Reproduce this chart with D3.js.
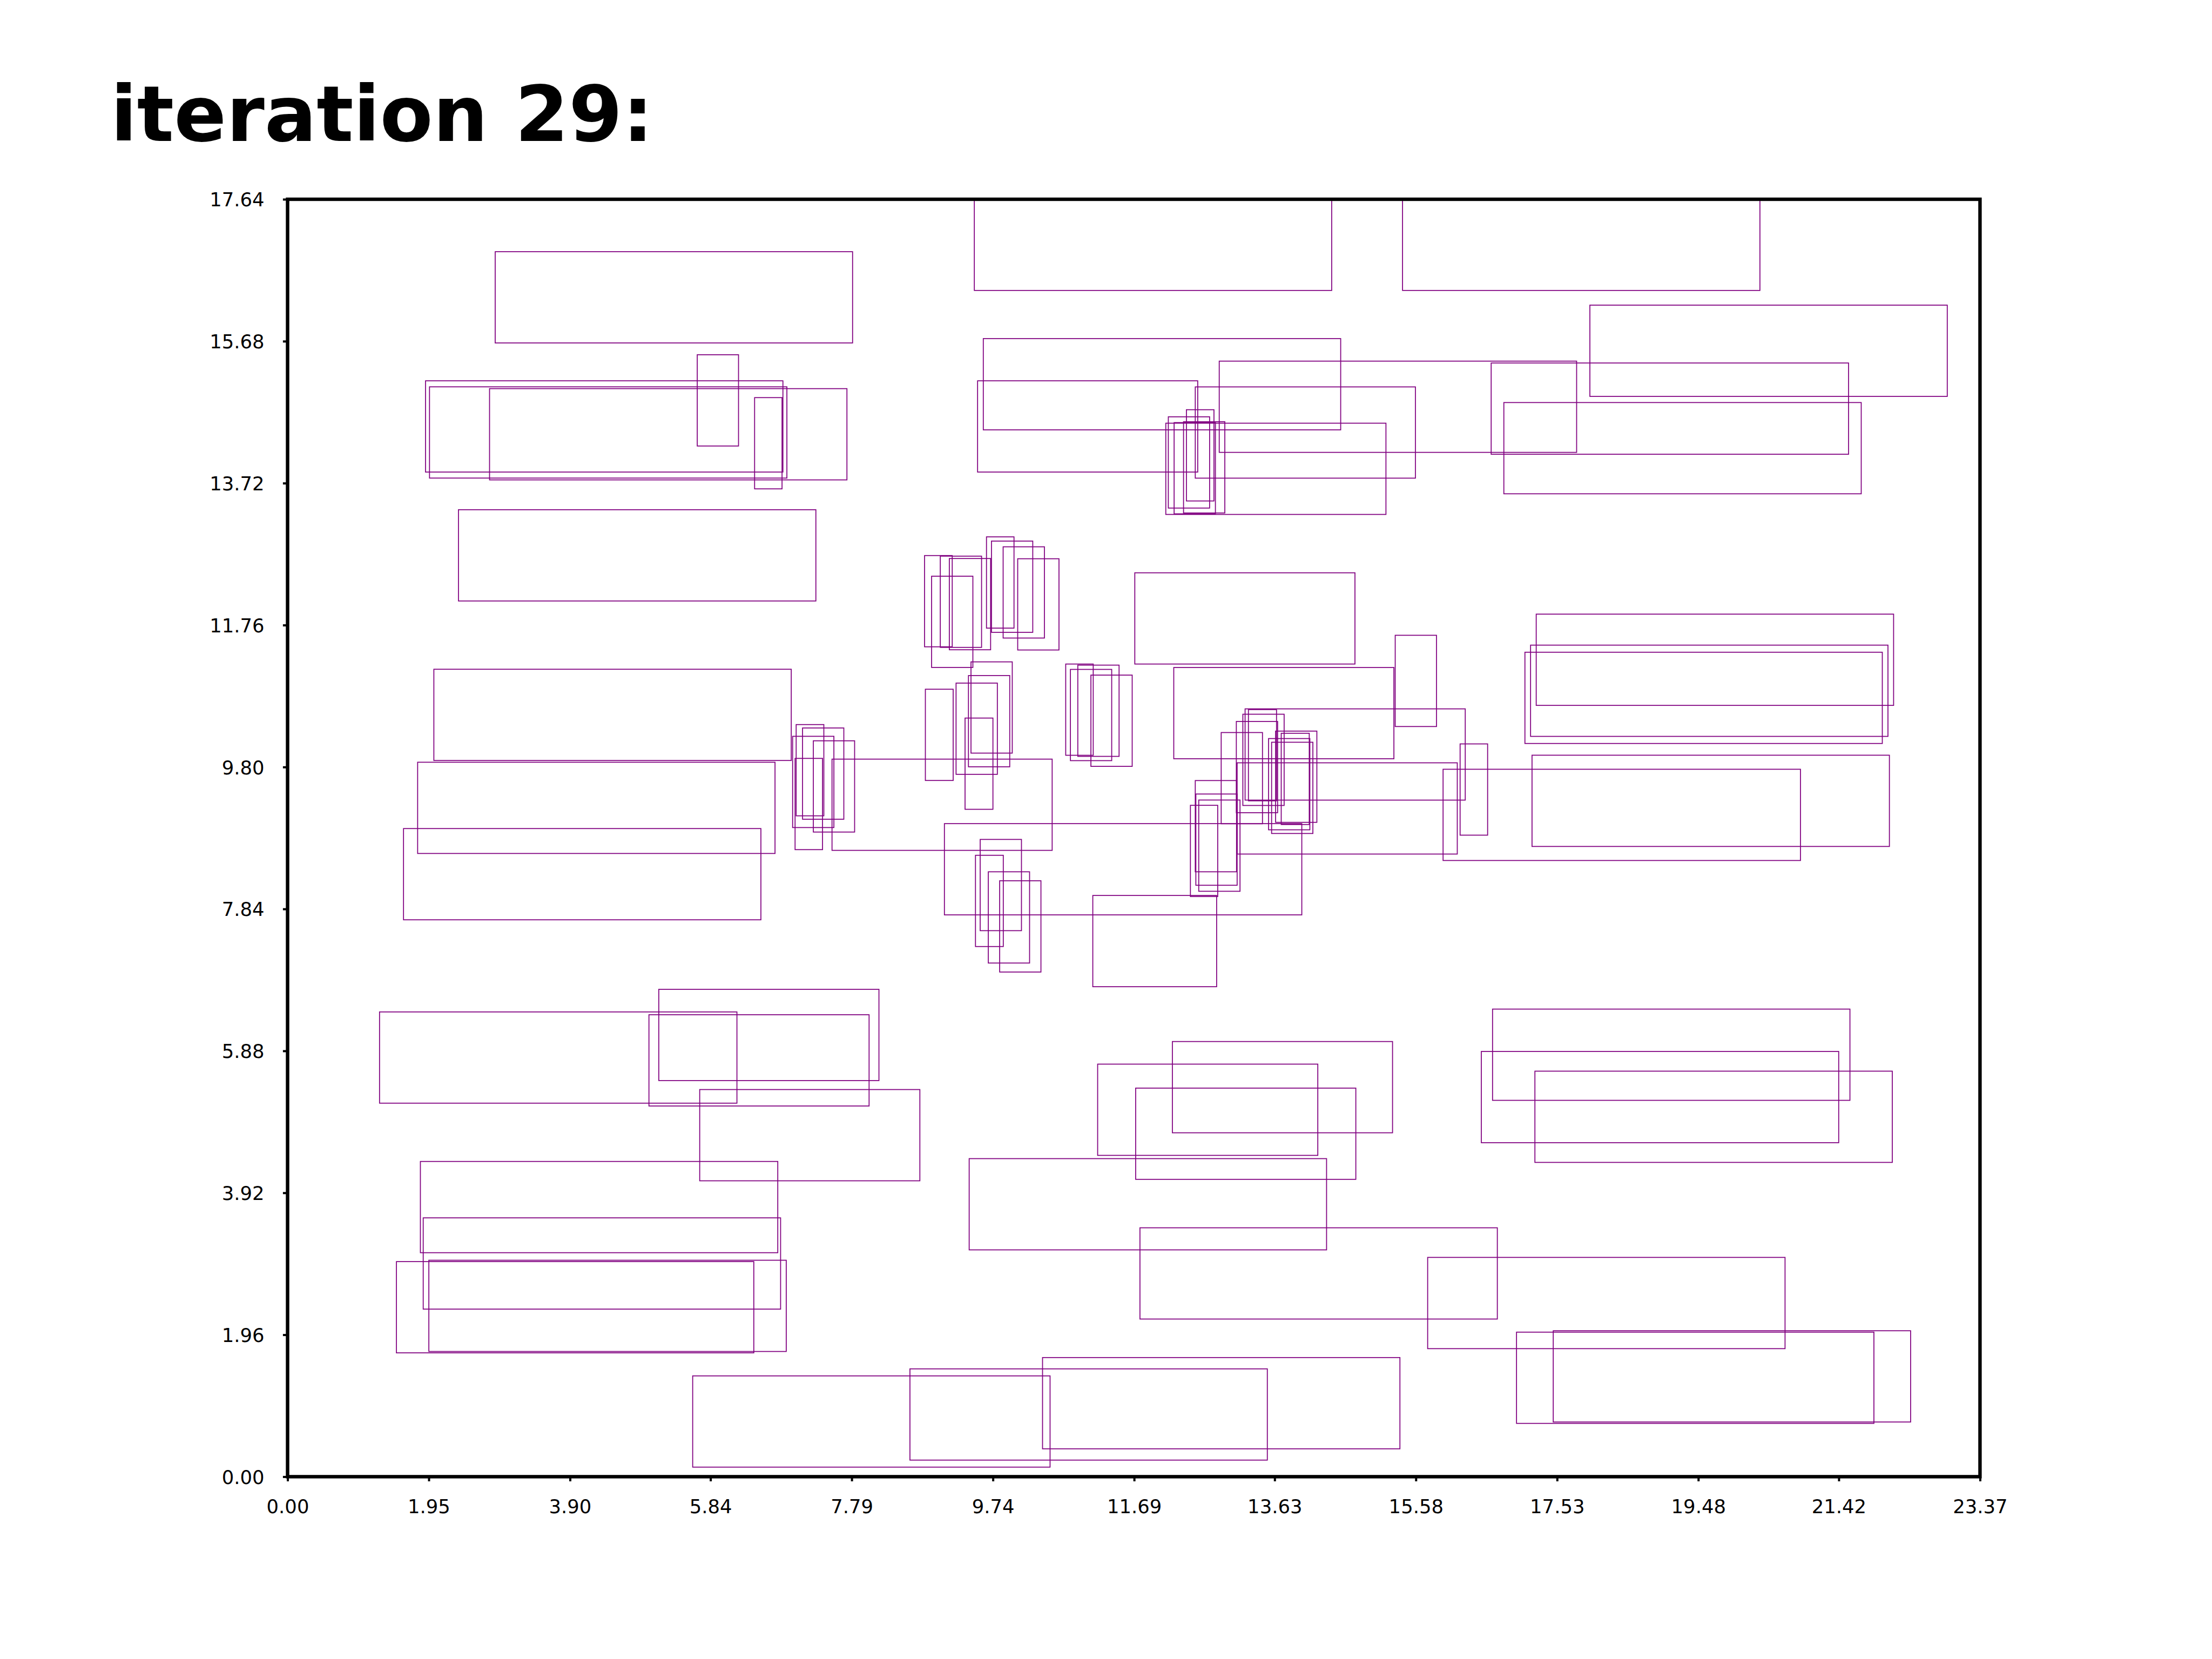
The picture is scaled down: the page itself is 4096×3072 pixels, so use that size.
<!DOCTYPE html>
<html>
<head>
<meta charset="utf-8">
<script src="https://cdn.jsdelivr.net/npm/d3@7"></script>
<style>
  html, body { margin: 0; padding: 0; background: #ffffff; }
  svg { display: block; }
  text { font-family: "DejaVu Sans", sans-serif; }
</style>
</head>
<body>
<script>
// ---- data (data units) ----
const titleText = "iteration 29:";
const xTickLabels = ["0.00","1.95","3.90","5.84","7.79","9.74","11.69","13.63","15.58","17.53","19.48","21.42","23.37"];
const yTickLabels = ["0.00","1.96","3.92","5.88","7.84","9.80","11.76","13.72","15.68","17.64"];
const xDomain = [0, 23.37];
const yDomain = [0, 17.64];

// rectangles: left x, bottom y, width, height
const rectX = [9.483,15.396,2.867,17.983,9.607,12.865,16.620,5.657,1.905,1.960,2.789,6.449,9.528,12.534,16.795,12.127,
  12.162,12.242,12.372,12.412,2.360,11.699,
  8.796,8.893,9.013,9.138,9.651,9.720,9.881,10.082,
  17.242,17.164,17.086,15.295,2.020,12.237,
  10.745,10.912,10.810,11.093,
  8.807,9.231,9.402,9.437,9.355,
  13.222,17.184,15.956,16.191,1.796,
  7.023,7.111,6.974,7.260,7.008,7.518,
  13.268,13.191,13.101,12.892,13.643,13.721,13.546,13.588,13.112,
  1.601,9.070,
  12.534,12.542,12.582,12.467,
  9.564,9.499,9.676,9.833,11.119,
  5.126,1.270,4.990,16.639,12.218,11.186,16.484,17.224,5.691,11.711,
  1.834,9.412,11.770,1.873,15.743,1.951,1.503,16.970,17.477,10.425,8.594,5.594];
const rectY = [16.381,16.381,15.656,14.918,14.456,14.145,14.119,14.233,13.873,13.790,13.765,13.641,13.873,13.789,13.573,13.288,
  13.376,13.296,13.308,13.474,12.093,11.222,
  11.460,11.175,11.452,11.419,11.718,11.660,11.581,11.416,
  10.651,10.223,10.125,10.359,9.890,9.914,
  9.962,9.947,9.888,9.809,
  9.614,9.699,9.803,9.992,9.216,
  9.343,8.703,8.509,8.859,8.606,
  9.126,9.079,8.964,8.902,8.659,8.649,
  9.333,9.269,9.169,9.016,9.036,9.006,8.933,8.882,8.598,
  7.690,7.758,
  8.353,8.167,8.084,8.011,
  7.540,7.321,7.093,6.969,6.766,
  5.470,5.158,5.119,5.197,4.749,4.437,4.612,4.340,4.086,4.106,
  3.093,3.132,2.177,2.314,1.768,1.729,1.710,0.736,0.755,0.385,0.229,0.132];
const rectW = [4.935,4.935,4.935,4.935,4.935,4.935,4.935,0.570,4.935,4.935,4.935,0.379,3.04,3.04,4.935,3.04,
  0.570,0.570,0.570,0.380,4.935,3.04,
  0.382,0.570,0.570,0.570,0.380,0.570,0.570,0.570,
  4.935,4.935,4.935,0.570,4.935,3.04,
  0.380,0.570,0.570,0.570,
  0.384,0.570,0.570,0.570,0.385,
  3.04,4.935,4.935,0.380,4.935,
  0.382,0.570,0.570,0.570,0.379,3.04,
  0.388,0.570,0.570,0.570,0.570,0.387,0.570,0.570,3.04,
  4.935,4.935,
  0.570,0.570,0.570,0.377,
  0.570,0.384,0.570,0.570,1.71,
  3.04,4.935,3.04,4.935,3.04,3.04,4.935,4.935,3.04,3.04,
  4.935,4.935,4.935,4.935,4.935,4.935,4.935,4.935,4.935,4.935,4.935,4.935];
const rectH = rectX.map(() => 1.26);

// ---- layout (pixels) ----
const W = 4096, H = 3072;
const plotLeft = 532.5, plotRight = 3666.4, plotTop = 369.0, plotBottom = 2734.4;
const purple = "#800080";

const svg = d3.select("body").append("svg")
  .attr("width", W).attr("height", H)
  .attr("viewBox", `0 0 ${W} ${H}`);

svg.append("rect").attr("width", W).attr("height", H).attr("fill", "#ffffff");

const x = d3.scaleLinear().domain(xDomain).range([plotLeft, plotRight]);
const y = d3.scaleLinear().domain(yDomain).range([plotBottom, plotTop]);

svg.append("defs").append("clipPath").attr("id", "plotclip")
  .append("rect")
  .attr("x", plotLeft).attr("y", plotTop)
  .attr("width", plotRight - plotLeft).attr("height", plotBottom - plotTop);

// rectangles
const rects = rectX.map((v, i) => ({x: v, y: rectY[i], w: rectW[i], h: rectH[i]}));
svg.append("g").attr("clip-path", "url(#plotclip)")
  .selectAll("rect").data(rects).enter().append("rect")
  .attr("x", d => x(d.x))
  .attr("y", d => y(d.y + d.h))
  .attr("width", d => x(d.x + d.w) - x(d.x))
  .attr("height", d => y(d.y) - y(d.y + d.h))
  .attr("fill", "none")
  .attr("stroke", purple)
  .attr("stroke-width", 1.75);

// axes
const xAxis = d3.axisBottom(x)
  .tickValues(xTickLabels.map(Number))
  .tickFormat((d, i) => xTickLabels[i])
  .tickSize(8.6).tickSizeOuter(0);
const gx = svg.append("g").attr("transform", `translate(0,${plotBottom})`).call(xAxis);
gx.select(".domain").remove();
gx.selectAll(".tick line").attr("stroke", "#000").attr("stroke-width", 4);
gx.selectAll(".tick text")
  .attr("y", 67.3).attr("dy", null)
  .attr("fill", "#000")
  .style("font-family", "'DejaVu Sans', sans-serif")
  .style("font-size", "35.4px");

const yAxis = d3.axisLeft(y)
  .tickValues(yTickLabels.map(Number))
  .tickFormat((d, i) => yTickLabels[i])
  .tickSize(8.6).tickSizeOuter(0);
const gy = svg.append("g").attr("transform", `translate(${plotLeft},0)`).call(yAxis);
gy.select(".domain").remove();
gy.selectAll(".tick line").attr("stroke", "#000").attr("stroke-width", 4);
gy.selectAll(".tick text")
  .attr("x", -42.9).attr("dy", "0.36em")
  .attr("text-anchor", "end")
  .attr("fill", "#000")
  .style("font-family", "'DejaVu Sans', sans-serif")
  .style("font-size", "35.4px");
gx.attr("font-size", null).attr("font-family", null);
gy.attr("font-size", null).attr("font-family", null);

// frame (spines)
svg.append("rect")
  .attr("x", plotLeft).attr("y", plotTop)
  .attr("width", plotRight - plotLeft).attr("height", plotBottom - plotTop)
  .attr("fill", "none").attr("stroke", "#000").attr("stroke-width", 6.4);

// title
svg.append("text")
  .attr("x", 204.8).attr("y", 261)
  .style("font-family", "'DejaVu Sans', sans-serif")
  .style("font-weight", "bold")
  .style("font-size", "143px")
  .attr("fill", "#000")
  .text(titleText);
</script>
</body>
</html>
